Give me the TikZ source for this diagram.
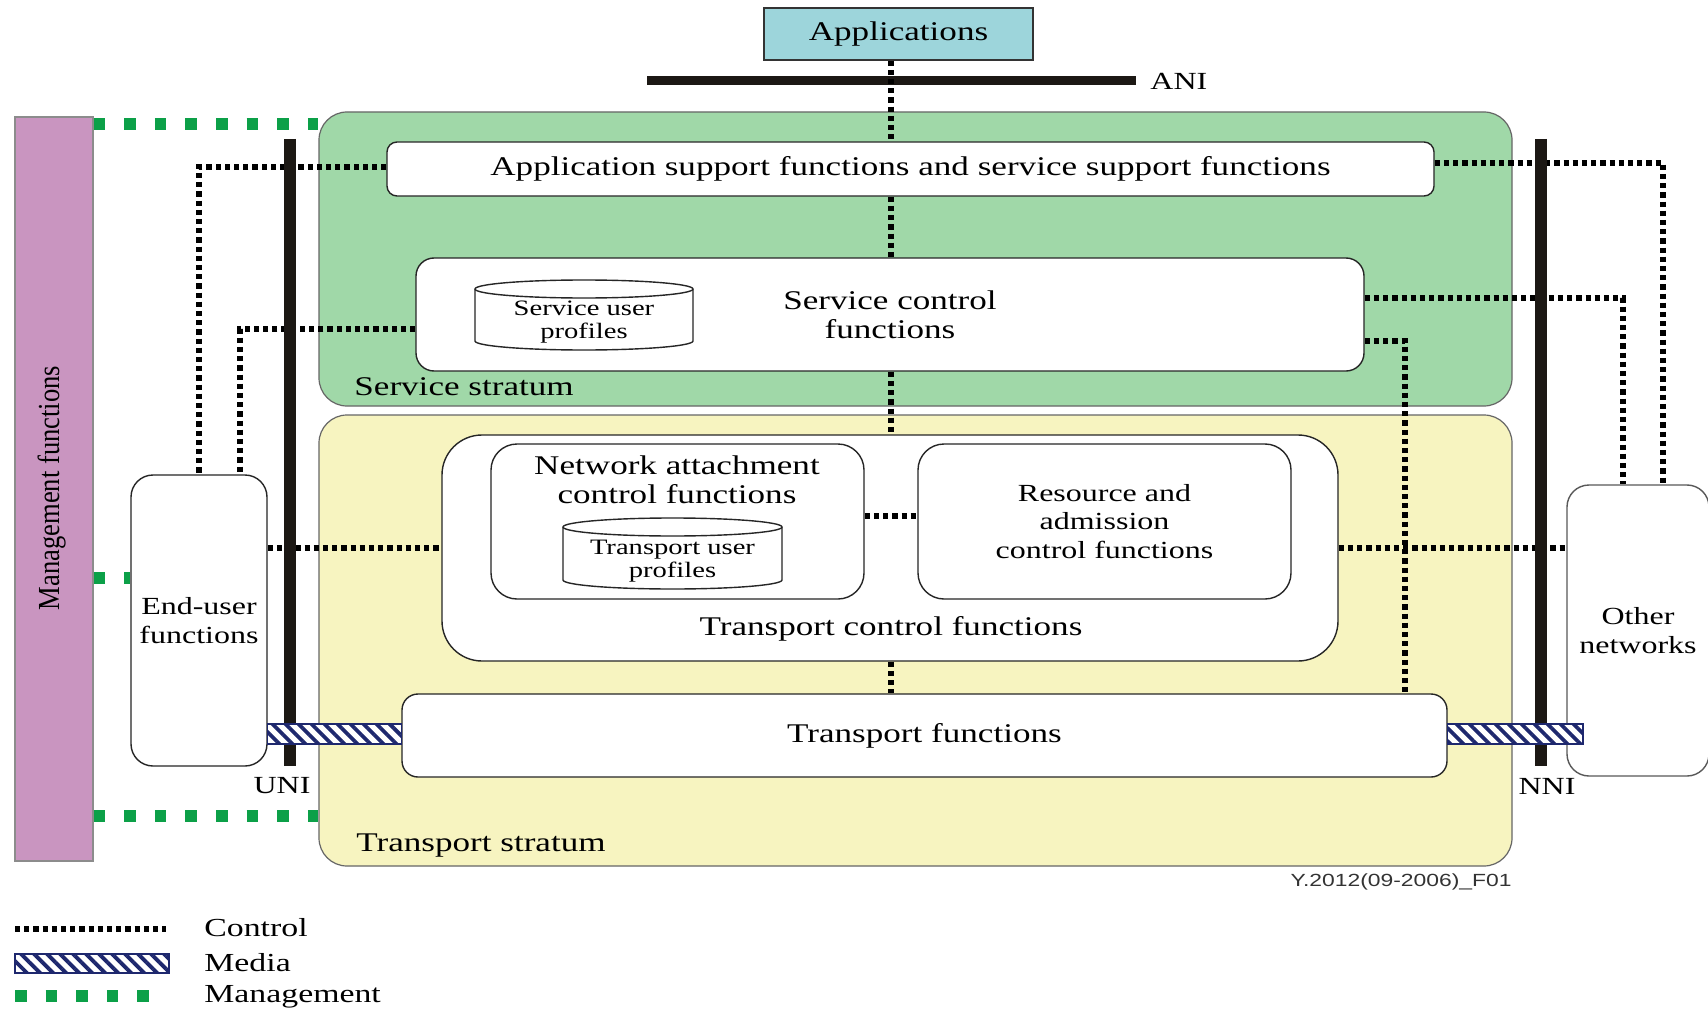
\documentclass[tikz,border=0pt]{standalone}
\usepackage{fontspec}
\setmainfont[FakeStretch=1.3]{Liberation Serif}
\newfontfamily\uprightserif{Liberation Serif}
\newfontfamily\figsans[FakeStretch=1.3]{Liberation Sans}
\usetikzlibrary{patterns.meta}

\definecolor{appfill}{RGB}{157,213,219}
\definecolor{svcfill}{RGB}{160,216,168}
\definecolor{trsfill}{RGB}{247,244,192}
\definecolor{mgmtfill}{RGB}{201,149,192}
\definecolor{mgmtgreen}{RGB}{12,160,72}
\definecolor{medianavy}{RGB}{30,40,110}
\definecolor{barblack}{RGB}{28,24,20}

\tikzset{
  fbox/.style={draw=black!85, line width=0.7pt, fill=white, inner sep=0pt, align=center},
  rc/.style={rounded corners=#1},
  dims/.style 2 args={minimum width=#1*0.5pt, minimum height=#2*0.5pt},
  ctrl/.style={draw=black, line width=2.7pt, dash pattern=on 2.6pt off 2.0pt},
  mgmtline/.style={draw=mgmtgreen, line width=5.8pt, dash pattern=on 5.8pt off 9.5pt},
  ifbar/.style={draw=barblack, line width=5.75pt},
  media/.style={draw=medianavy, line width=0.7pt, fill=white,
    postaction={pattern color=medianavy, pattern={Lines[angle=-45,distance=4.6pt,line width=1.9pt]}}},
  stratum/.style={draw=black!60, line width=0.6pt, rounded corners=14pt, inner sep=0pt},
  bigtxt/.style={font=\fontsize{13.5}{14.5}\selectfont},
  midtxt/.style={font=\fontsize{12.3}{14.2}\selectfont},
  smalltxt/.style={font=\fontsize{11}{11.7}\selectfont},
  legtxt/.style={font=\fontsize{13}{14}\selectfont, anchor=west},
}

\begin{document}
\begin{tikzpicture}[x=0.5pt, y=0.5pt, every node/.style={inner sep=0pt, align=center}]
\useasboundingbox (0,0) rectangle (1708,-1011);
\fill[white] (0,0) rectangle (1708,-1011);

% helper levels
\coordinate (cx) at (891,0);
\coordinate (ya) at (0,-167);
\coordinate (yb) at (0,-163);
\coordinate (ysa) at (0,-329);
\coordinate (ysb) at (0,-298);
\coordinate (ysc) at (0,-341);
\coordinate (yn) at (0,-516);
\coordinate (yt) at (0,-548);
\coordinate (ym1) at (0,-124);
\coordinate (ym2) at (0,-578);
\coordinate (ym3) at (0,-816);
\coordinate (ymt) at (0,-724);
\coordinate (ymb) at (0,-744);
\coordinate (x240) at (240,0);
\coordinate (x1405) at (1405,0);
\coordinate (x1623) at (1623,0);
\coordinate (x1663) at (1663,0);
\coordinate (x1583) at (1583,0);

% strata
\node[stratum, fill=svcfill, dims={1193}{294}] (svc) at (915.5,-259) {};
\node[stratum, fill=trsfill, dims={1193}{451}] (trs) at (915.5,-640.5) {};
\node[bigtxt, anchor=west] (svclabel) at (354,-387) {Service stratum};
\node[bigtxt, anchor=west] (trslabel) at (356,-846) {Transport stratum};

% management functions
\node[draw=black!45, line width=0.6pt, fill=mgmtfill, dims={78}{744}] (mgmt) at (54,-489) {};
\node[rotate=90] (mgmtlabel) at (52,-488)
  {\scalebox{1}[1.15]{\uprightserif\fontsize{13.3}{14}\selectfont Management functions}};

% applications and ANI
\node[draw=black!80, line width=0.7pt, fill=appfill, dims={269}{52}, bigtxt] (apps) at (898.5,-34) {Applications};
\coordinate (ani-l) at (647,-81);
\coordinate (ani-r) at (1136,-81);
\draw[draw=barblack, line width=4.5pt] (ani-l) -- (ani-r);
\node[midtxt, anchor=west] (ani) at (1150,-81) {ANI};

% functional blocks
\node[fbox, rc=5pt, dims={1047}{54}, bigtxt] (asf) at (910.5,-169)
  {Application support functions and service support functions};
\node[fbox, rc=9pt, dims={948}{113}, bigtxt] (scf) at (890,-314.5) {Service control\\functions};
\node[fbox, rc=20pt, dims={896}{226}] (tcf) at (890,-548) {};
\node[bigtxt] (tcflabel) at (891,-629) {Transport control functions};
\node[fbox, rc=13pt, dims={373}{155}] (nacf) at (677.5,-521.5) {};
\node[bigtxt] (nacflabel) at (677,-480) {Network attachment\\control functions};
\node[fbox, rc=13pt, dims={373}{155}, midtxt] (racf) at (1104.5,-521.5)
  {Resource and\\admission\\control functions};
\node[fbox, rc=8pt, dims={1045}{83}, bigtxt] (tf) at (924.5,-735.5) {Transport functions};
\node[fbox, rc=11pt, dims={136}{291}, midtxt] (eu) at (199,-620.5) {End-user\\functions};
\node[fbox, draw=black!65, rc=11pt, dims={142}{291}, midtxt] (on) at (1638,-630.5) {Other\\networks};

% profile databases
\filldraw[fill=white, draw=black!85, line width=0.7pt]
  (475,-289) -- (475,-341) arc[start angle=180, end angle=360, x radius=54.5pt, y radius=4.5pt]
  -- (693,-289) arc[start angle=0, end angle=180, x radius=54.5pt, y radius=4.5pt] -- cycle;
\draw[black!85, line width=0.7pt] (475,-289) arc[start angle=180, end angle=360, x radius=54.5pt, y radius=4.5pt];
\node[smalltxt] (sup) at (584,-322) {Service user\\profiles};

\filldraw[fill=white, draw=black!85, line width=0.7pt]
  (563,-527) -- (563,-580) arc[start angle=180, end angle=360, x radius=54.75pt, y radius=4.5pt]
  -- (782,-527) arc[start angle=0, end angle=180, x radius=54.75pt, y radius=4.5pt] -- cycle;
\draw[black!85, line width=0.7pt] (563,-527) arc[start angle=180, end angle=360, x radius=54.75pt, y radius=4.5pt];
\node[smalltxt] (tup) at (672.5,-561) {Transport user\\profiles};

% control relations
\draw[ctrl] (apps.south -| cx) -- (asf.north -| cx);
\draw[ctrl] (asf.south -| cx) -- (scf.north -| cx);
\draw[ctrl] (scf.south -| cx) -- (tcf.north -| cx);
\draw[ctrl] (tcf.south -| cx) -- (tf.north -| cx);
\draw[ctrl] (nacf.east |- yn) -- (racf.west |- yn);
\draw[ctrl] (eu.east |- yt) -- (tcf.west |- yt);
\draw[ctrl] (tcf.east |- yt) -- (on.west |- yt);
\draw[ctrl] (asf.west |- ya) -| (eu.north);
\draw[ctrl] (scf.west |- ysa) -| (x240 |- eu.north);
\draw[ctrl] (asf.east |- yb) -| (x1663 |- on.north);
\draw[ctrl] (scf.east |- ysb) -| (x1623 |- on.north);
\draw[ctrl] (scf.east |- ysc) -| (x1405 |- tf.north);

% reference points UNI and NNI
\coordinate (uni-t) at (290,-139);
\coordinate (uni-b) at (290,-766);
\coordinate (nni-t) at (1541,-139);
\coordinate (nni-b) at (1541,-766);
\draw[ifbar] (uni-t) -- (uni-b);
\draw[ifbar] (nni-t) -- (nni-b);
\node[midtxt] (uni) at (282,-786) {UNI};
\node[midtxt] (nni) at (1547,-786) {NNI};

% media flows
\path[media] (eu.east |- ymt) rectangle (tf.west |- ymb);
\path[media] (tf.east |- ymt) rectangle (x1583 |- ymb);

% management relations
\draw[mgmtline] (mgmt.east |- ym1) -- (svc.west |- ym1);
\draw[mgmtline] (mgmt.east |- ym2) -- (eu.west |- ym2);
\draw[mgmtline] (mgmt.east |- ym3) -- (trs.west |- ym3);

% figure reference
\node[anchor=east, font=\figsans\fontsize{8.8}{10}\selectfont, text=black!80] (figref) at (1512,-882) {Y.2012(09-2006)\_F01};

% legend
\coordinate (lgc1) at (15,-929);
\coordinate (lgc2) at (166,-929);
\draw[ctrl] (lgc1) -- (lgc2);
\node[legtxt] (lgctrl) at (204,-928) {Control};
\path[media] (15,-954) rectangle (169,-973);
\node[legtxt] (lgmedia) at (204,-963) {Media};
\coordinate (lgm1) at (15,-996);
\coordinate (lgm2) at (153,-996);
\draw[mgmtline] (lgm1) -- (lgm2);
\node[legtxt] (lgmgmt) at (204,-997) {Management};
\end{tikzpicture}
\end{document}
